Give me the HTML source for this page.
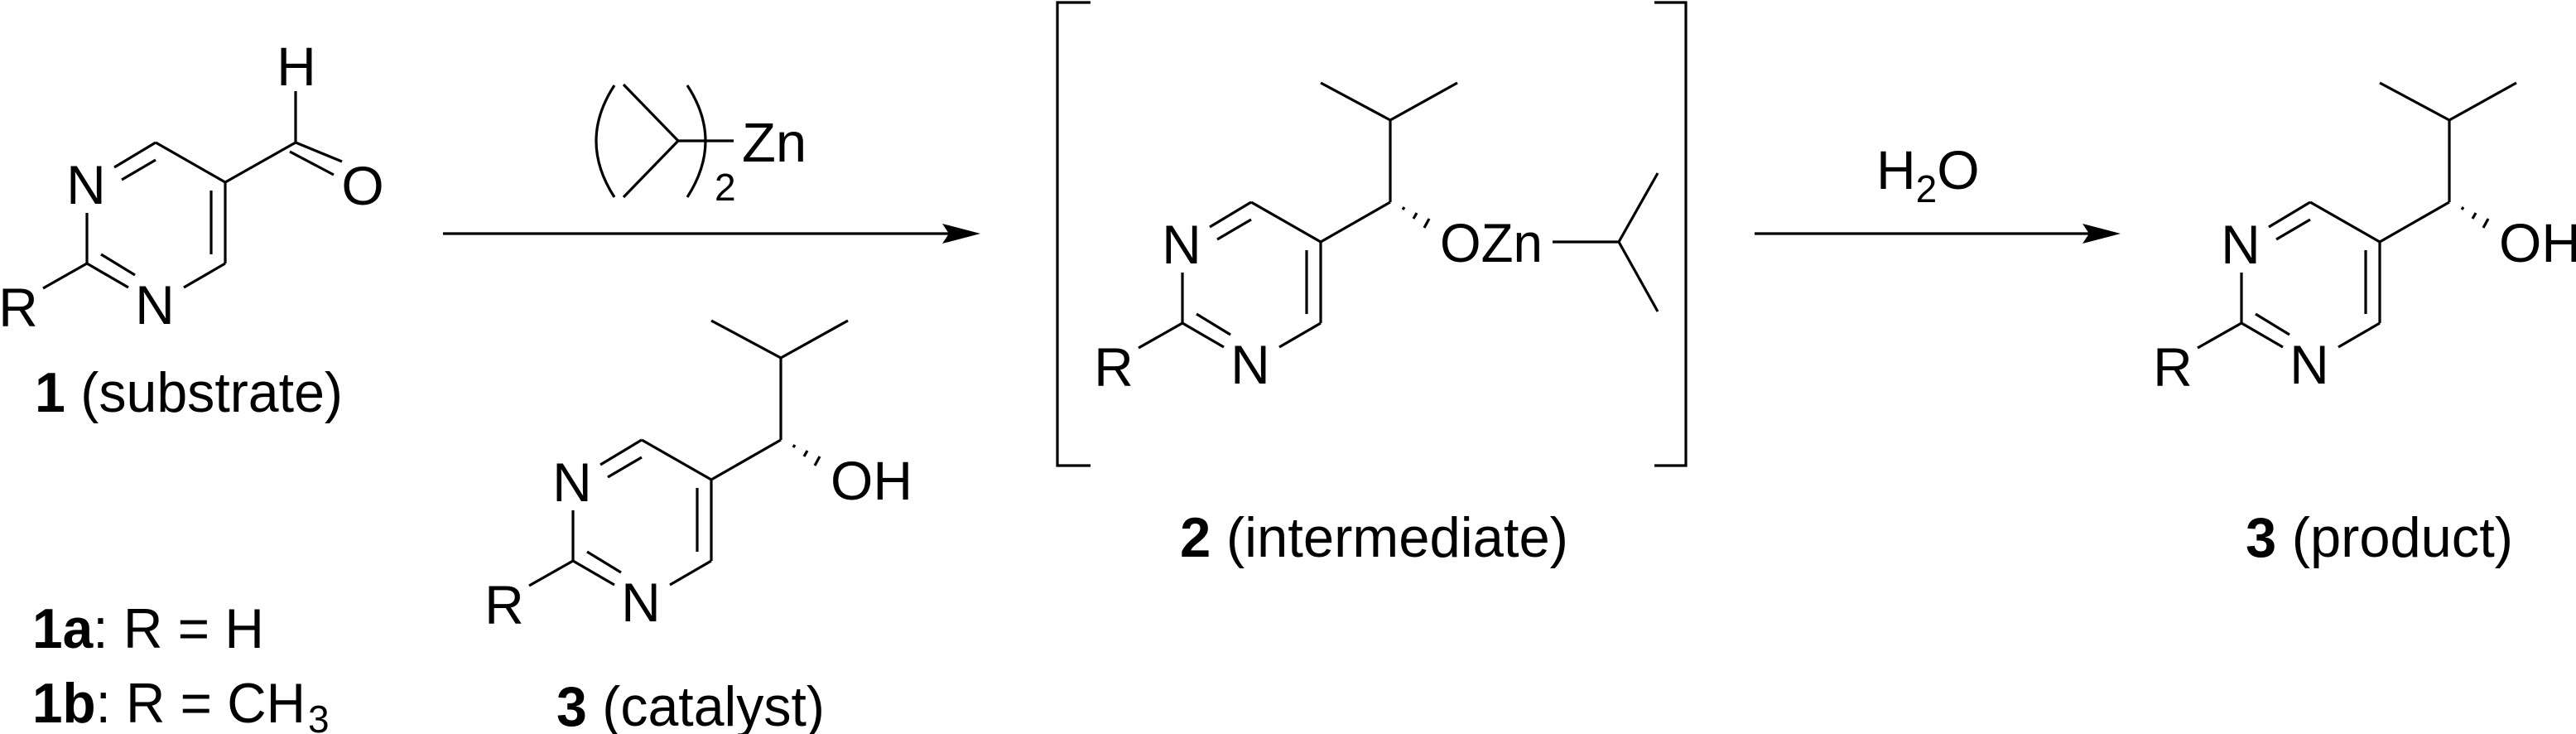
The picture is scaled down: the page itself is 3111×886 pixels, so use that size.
<!DOCTYPE html>
<html><head><meta charset="utf-8"><style>
html,body{margin:0;padding:0;background:#fff;}
svg{display:block;}
text{font-family:"Liberation Sans",Arial,sans-serif;fill:#000;}
</style></head><body>
<svg width="3111" height="886" viewBox="0 0 3111 886" xmlns="http://www.w3.org/2000/svg">
<defs>
<g id="ring" stroke="#000" stroke-width="3.2" fill="none" stroke-linecap="butt">
  <line x1="138" y1="202" x2="188" y2="172"/>
  <line x1="147" y1="217" x2="188" y2="193"/>
  <line x1="188" y1="172" x2="272" y2="220"/>
  <line x1="272" y1="220" x2="272" y2="318"/>
  <line x1="255" y1="230" x2="255" y2="307"/>
  <line x1="272" y1="318" x2="222" y2="347"/>
  <line x1="155" y1="347" x2="105" y2="318"/>
  <line x1="163" y1="332" x2="122" y2="307"/>
  <line x1="105" y1="318" x2="105" y2="257"/>
  <line x1="105" y1="318" x2="52" y2="348"/>
</g>
<g id="ringtxt" font-size="66" text-anchor="middle">
  <text x="104" y="246">N</text>
  <text x="187" y="391">N</text>
  <text x="22" y="394">R</text>
</g>
<g id="chain" stroke="#000" stroke-width="3.2" fill="none">
  <line x1="272" y1="220" x2="356" y2="172"/>
  <line x1="356" y1="172" x2="356" y2="73"/>
  <line x1="356" y1="73" x2="272" y2="28"/>
  <line x1="356" y1="73" x2="437" y2="28"/>
  <line x1="371" y1="181" x2="373" y2="178"/>
  <line x1="384" y1="192" x2="388" y2="185"/>
  <line x1="397" y1="203" x2="403" y2="192"/>
</g>
</defs>

<!-- Substrate 1 -->
<use href="#ring"/>
<use href="#ringtxt"/>
<g stroke="#000" stroke-width="3.2" fill="none">
  <line x1="272" y1="220" x2="357" y2="172"/>
  <line x1="357" y1="172" x2="357" y2="110"/>
  <line x1="357" y1="172" x2="413" y2="195"/>
  <line x1="350" y1="183" x2="403" y2="211"/>
</g>
<g font-size="66" text-anchor="middle">
  <text x="358" y="103">H</text>
  <text x="438" y="247">O</text>
</g>
<text x="42" y="497" font-size="68" textLength="372" lengthAdjust="spacingAndGlyphs"><tspan font-weight="bold">1</tspan> (substrate)</text>
<text x="39" y="782" font-size="68" textLength="280" lengthAdjust="spacingAndGlyphs"><tspan font-weight="bold">1a</tspan>: R = H</text>
<text x="39" y="872" font-size="68" textLength="330" lengthAdjust="spacingAndGlyphs"><tspan font-weight="bold">1b</tspan>: R = CH</text>
<text x="372" y="884" font-size="46">3</text>

<!-- Reagent -->
<g stroke="#000" stroke-width="3.2" fill="none">
  <path d="M742 103 Q698 170 742 238"/>
  <path d="M830 103 Q874 170 830 238"/>
  <line x1="753" y1="102" x2="819" y2="170"/>
  <line x1="819" y1="170" x2="753" y2="238"/>
  <line x1="819" y1="170" x2="886" y2="170"/>
</g>
<text x="863" y="242" font-size="46">2</text>
<text x="896" y="195" font-size="67">Zn</text>

<!-- Arrow 1 -->
<line x1="535" y1="282" x2="1150" y2="282" stroke="#000" stroke-width="3.2"/>
<path d="M1184 282 L1138 270 L1146 282 L1138 294 Z" fill="#000"/>

<!-- Catalyst 3 -->
<g transform="translate(587,359)">
  <use href="#ring"/><use href="#ringtxt"/><use href="#chain"/>
  <text x="416" y="244" font-size="66">OH</text>
</g>
<text x="672" y="876" font-size="68" textLength="324" lengthAdjust="spacingAndGlyphs"><tspan font-weight="bold">3</tspan> (catalyst)</text>

<!-- Intermediate 2 -->
<g transform="translate(1323,72)">
  <use href="#ring"/><use href="#ringtxt"/><use href="#chain"/>
  <text x="416" y="244" font-size="66" textLength="124" lengthAdjust="spacingAndGlyphs">OZn</text>
</g>
<g stroke="#000" stroke-width="3.2" fill="none">
  <line x1="1875" y1="292" x2="1955" y2="292"/>
  <line x1="1955" y1="292" x2="2002" y2="209"/>
  <line x1="1955" y1="292" x2="2002" y2="376"/>
  <path d="M1317 3 L1277 3 L1277 562 L1317 562"/>
  <path d="M1998 3 L2036 3 L2036 562 L1998 562"/>
</g>
<text x="1425" y="672" font-size="68" textLength="469" lengthAdjust="spacingAndGlyphs"><tspan font-weight="bold">2</tspan> (intermediate)</text>

<!-- Arrow 2 -->
<text x="2266" y="228" font-size="66">H<tspan font-size="46" dy="16">2</tspan><tspan dy="-16">O</tspan></text>
<line x1="2119" y1="282" x2="2528" y2="282" stroke="#000" stroke-width="3.2"/>
<path d="M2561 282 L2515 270 L2523 282 L2515 294 Z" fill="#000"/>

<!-- Product 3 -->
<g transform="translate(2602,72)">
  <use href="#ring"/><use href="#ringtxt"/><use href="#chain"/>
  <text x="416" y="244" font-size="66">OH</text>
</g>
<text x="2712" y="672" font-size="68" textLength="323" lengthAdjust="spacingAndGlyphs"><tspan font-weight="bold">3</tspan> (product)</text>
</svg>
</body></html>
